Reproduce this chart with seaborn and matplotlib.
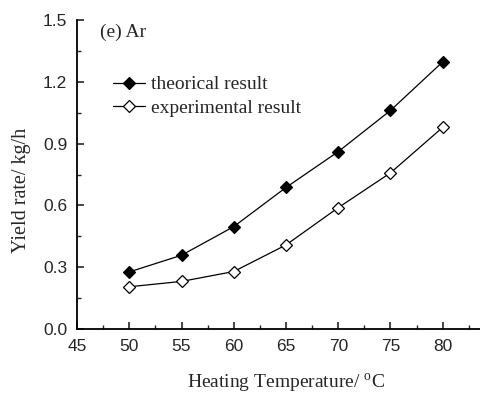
import matplotlib
matplotlib.use("Agg")
import matplotlib.pyplot as plt
import seaborn as sns
import pandas as pd

temperature = [50, 55, 60, 65, 70, 75, 80]
theorical = [0.277, 0.358, 0.497, 0.687, 0.861, 1.061, 1.297]
experimental = [0.205, 0.231, 0.279, 0.408, 0.589, 0.758, 0.979]
series_names = ["theorical result", "experimental result"]

df = pd.DataFrame({
    "T": temperature * 2,
    "Y": theorical + experimental,
    "series": [series_names[0]] * len(temperature) + [series_names[1]] * len(temperature),
})

sns.set_style("ticks")
plt.rcParams["font.family"] = ["Liberation Sans", "DejaVu Sans"]
plt.rcParams["mathtext.fontset"] = "custom"
plt.rcParams["mathtext.rm"] = "Liberation Serif"

fig = plt.figure(figsize=(4.81, 4.00), dpi=100)
ax = fig.add_axes([0.1601, 0.1775, 0.869, 0.7725])

for name, face in zip(series_names, ["black", "white"]):
    sub = df[df["series"] == name]
    sns.lineplot(data=sub, x="T", y="Y", ax=ax, color="black", lw=0.9,
                 marker="D", markersize=6.5, markerfacecolor=face,
                 markeredgecolor="black", markeredgewidth=0.9, label=name)

ax.set_xlim(45, 85)
ax.set_ylim(0, 1.5)
ax.set_xticks([45, 50, 55, 60, 65, 70, 75, 80])
ax.set_xticklabels(["45", "50", "55", "60", "65", "70", "75", "80"])
ax.set_yticks([0.0, 0.3, 0.6, 0.9, 1.2, 1.5])
ax.set_yticklabels(["0.0", "0.3", "0.6", "0.9", "1.2", "1.5"])
ax.set_xticks([47.5, 52.5, 57.5, 62.5, 67.5, 72.5, 77.5, 82.5], minor=True)
ax.set_yticks([0.15, 0.45, 0.75, 1.05, 1.35], minor=True)
ax.tick_params(which="major", direction="in", length=5, width=1.2, labelsize=12.5, pad=7)
ax.tick_params(which="minor", direction="in", length=3, width=1.0)
for s in ["top", "right"]:
    ax.spines[s].set_visible(False)
for s in ["left", "bottom"]:
    ax.spines[s].set_linewidth(1.3)
    ax.spines[s].set_color("black")

serif = ["Liberation Serif", "DejaVu Serif"]
ax.set_xlabel("Heating Temperature/ $^{\\mathrm{o}}$C", family=serif, fontsize=14, labelpad=13)
ax.set_ylabel("Yield rate/ kg/h", family=serif, fontsize=14.5)
ax.yaxis.set_label_coords(-0.11, 0.45)
ax.text(47.2, 1.44, "(e) Ar", family=serif, fontsize=14, va="center", ha="left")

leg = ax.legend(loc="upper left", bbox_to_anchor=(0.044, 0.876), frameon=False,
                handlelength=1.65, handletextpad=0.3, labelspacing=0.3,
                prop={"family": serif, "size": 14})

fig.savefig("out.png", dpi=100)
